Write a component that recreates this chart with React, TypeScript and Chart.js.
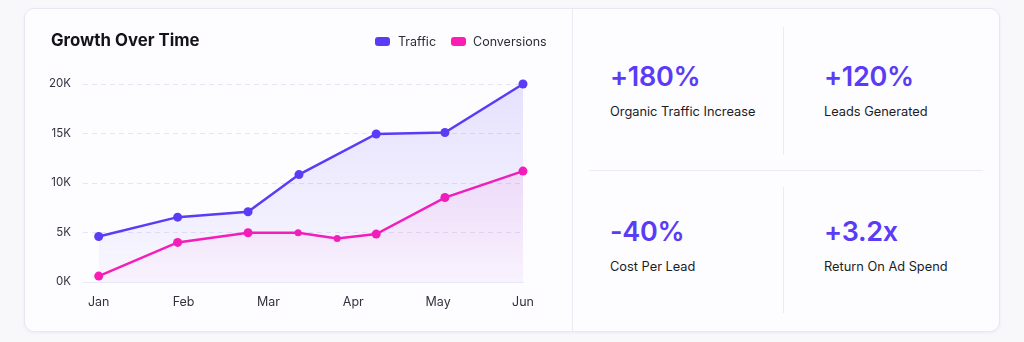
import React, { useEffect, useRef } from "react";
import { Chart, registerables } from "chart.js";

Chart.register(...registerables);

// ---- data ----
const monthLabels = ["Jan", "Feb", "Mar", "Apr", "May", "Jun"];
const monthTicks = [0, 1, 2, 3, 4, 5];
const trafficX = [0, 0.93, 1.76, 2.36, 3.27, 4.08, 5];
const trafficY = [4600, 6550, 7100, 10850, 14950, 15100, 20000];
const conversionsX = [0, 0.93, 1.76, 2.35, 2.81, 3.27, 4.08, 5];
const conversionsY = [600, 4000, 4980, 4970, 4400, 4840, 8530, 11200];
const yTicks = [0, 5000, 10000, 15000, 20000];
const seriesNames = ["Traffic", "Conversions"];
const chartTitle = "Growth Over Time";
const statValues = ["+180%", "+120%", "-40%", "+3.2x"];
const statLabels = ["Organic Traffic Increase", "Leads Generated", "Cost Per Lead", "Return On Ad Spend"];

const TRAFFIC = "#5a3cf6";
const CONV = "#fc1cb6";
const FONT = "Inter, 'Noto Sans', sans-serif";

function gradient(ctx: any, rgb: string, top: number, bottom: number) {
  const chart = ctx.chart;
  const area = chart.chartArea;
  if (!area) return `rgba(${rgb},0.08)`;
  const g = chart.ctx.createLinearGradient(0, area.top, 0, area.bottom);
  g.addColorStop(0, `rgba(${rgb},${top})`);
  g.addColorStop(1, `rgba(${rgb},${bottom})`);
  return g;
}

function LineChart() {
  const ref = useRef<HTMLCanvasElement | null>(null);
  useEffect(() => {
    if (!ref.current) return;
    const chart = new Chart(ref.current, {
      type: "line",
      data: {
        datasets: [
          {
            label: seriesNames[0],
            data: trafficX.map((x, i) => ({ x, y: trafficY[i] })),
            borderColor: TRAFFIC,
            backgroundColor: (c: any) => gradient(c, "90,60,246", 0.14, 0.03),
            fill: "origin",
            clip: false,
            borderWidth: 2.5,
            pointRadius: 4.5,
            pointBackgroundColor: TRAFFIC,
            pointBorderWidth: 0,
            tension: 0,
          },
          {
            label: seriesNames[1],
            data: conversionsX.map((x, i) => ({ x, y: conversionsY[i] })),
            borderColor: CONV,
            backgroundColor: (c: any) => gradient(c, "252,28,182", 0.13, 0.02),
            fill: "origin",
            clip: false,
            borderWidth: 2.5,
            pointRadius: (c: any) => (c.dataIndex === 3 || c.dataIndex === 4 ? 3.5 : 4.5),
            pointBackgroundColor: CONV,
            pointBorderWidth: 0,
            tension: 0,
          },
        ],
      },
      options: {
        animation: false,
        responsive: false,
        layout: { padding: { left: 0, right: 49, top: 76, bottom: 0 } },
        plugins: {
          legend: { display: false },
          title: { display: false },
          tooltip: { enabled: false },
        },
        scales: {
          x: {
            type: "linear",
            min: -0.185,
            max: 5,
            afterBuildTicks: (s: any) => {
              s.ticks = monthTicks.map((v) => ({ value: v }));
            },
            afterFit: (s: any) => {
              s.height = 50;
            },
            grid: { display: false, drawTicks: false },
            border: { display: true, color: "#e9e8f7", width: 1 },
            ticks: {
              padding: 13,
              maxRotation: 0,
              autoSkip: false,
              color: "#333340",
              font: { family: FONT, size: 12.5 },
              callback: (v: any) => monthLabels[Math.round(Number(v))] ?? "",
            },
          },
          y: {
            min: 0,
            max: 20000,
            afterBuildTicks: (s: any) => {
              s.ticks = yTicks.map((v) => ({ value: v }));
            },
            afterFit: (s: any) => {
              s.width = 59;
            },
            grid: { color: "#e6e5f6", lineWidth: 1, drawTicks: false },
            border: { display: false, dash: [5, 4] },
            ticks: {
              padding: 12,
              color: "#333340",
              font: { family: FONT, size: 11.5 },
              callback: (v: any) => `${Number(v) / 1000}K`,
            },
          },
        },
      } as any,
    });
    return () => chart.destroy();
  }, []);
  return <canvas ref={ref} width={548} height={324} style={{ display: "block" }} />;
}

export default function App() {
  const abs = (s: React.CSSProperties): React.CSSProperties => ({ position: "absolute", ...s });
  const cols = [610, 824];
  const rows = [
    [77, 112],
    [232, 267],
  ];
  return (
    <div style={abs({ left: 0, top: 0, width: 1024, height: 342, background: "#f8f8fb", fontFamily: FONT, overflow: "hidden" })}>
      <div
        style={abs({
          left: 24,
          top: 8,
          width: 976,
          height: 324,
          boxSizing: "border-box",
          background: "#fdfdff",
          border: "1px solid #e8e7f3",
          borderRadius: 10,
          boxShadow: "0 1px 3px rgba(90,80,160,0.08)",
        })}
      />
      <div style={abs({ left: 24, top: 8 })}>
        <LineChart />
      </div>
      <div style={abs({ left: 51, top: 30, fontSize: 16.8, lineHeight: "20px", fontWeight: 700, color: "#141418" })}>{chartTitle}</div>
      {[
        { name: seriesNames[0], color: TRAFFIC, box: 375, text: 398 },
        { name: seriesNames[1], color: CONV, box: 451, text: 473 },
      ].map((l) => (
        <React.Fragment key={l.name}>
          <div style={abs({ left: l.box, top: 37, width: 15, height: 9, borderRadius: 3, background: l.color })} />
          <div style={abs({ left: l.text, top: 33.5, fontSize: 12.5, lineHeight: "16px", color: "#2c2c36" })}>{l.name}</div>
        </React.Fragment>
      ))}
      <div style={abs({ left: 572, top: 8, width: 1, height: 324, background: "#ecebf4" })} />
      <div style={abs({ left: 783, top: 27, width: 1, height: 128, background: "#ecebf4" })} />
      <div style={abs({ left: 783, top: 187, width: 1, height: 126, background: "#ecebf4" })} />
      <div style={abs({ left: 589, top: 170, width: 394, height: 1, background: "#ecebf4" })} />
      {statValues.map((v, i) => {
        const x = cols[i % 2];
        const [vy, ly] = rows[Math.floor(i / 2)];
        return (
          <React.Fragment key={v}>
            <div style={abs({ left: x, top: vy - 16, fontSize: 27, lineHeight: "32px", fontWeight: 600, color: "#5a3cf6", letterSpacing: -0.3 })}>{v}</div>
            <div style={abs({ left: x, top: ly - 8, fontSize: 12.8, lineHeight: "16px", fontWeight: 400, color: "#1c1c24" })}>{statLabels[i]}</div>
          </React.Fragment>
        );
      })}
    </div>
  );
}
